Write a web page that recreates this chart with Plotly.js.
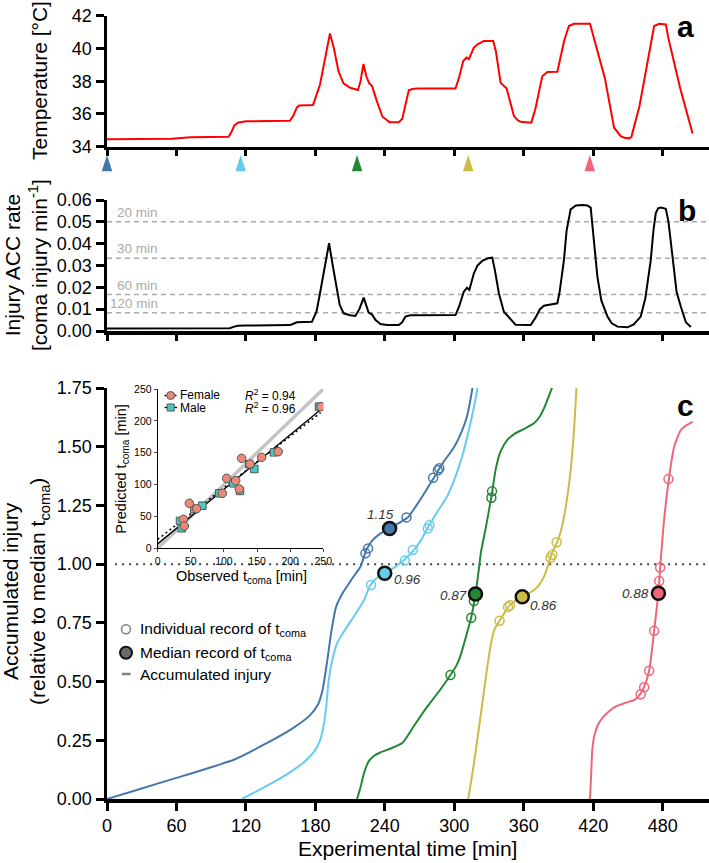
<!DOCTYPE html>
<html><head><meta charset="utf-8">
<script src="https://cdn.plot.ly/plotly-3.0.1.min.js"></script>
<style>html,body{margin:0;padding:0;background:#fff}#chart{width:709px;height:863px}</style>
</head><body><div id="chart"></div>
<script>
// ---------- Panel a: temperature ----------
const tempTime = [0,20,40,56,72,90,105,107.5,110,113,120,140,158,161,164,166,172,178,184,188,192.6,196,200,204.3,210,216.8,219,221.5,224,226.5,229,233,238,244,252,255,258,260.7,264,267.9,280,301,304,307.7,310.6,312.6,316.9,320,325.5,333.6,336,340,343,345.2,348,351.5,355,357.3,366.5,370,376,380.4,389,391,395,399,403.4,417.2,420,430,438,443.8,447,451,453,460,472.6,477,482.7,485,495,505.8];
const tempValue = [34.45,34.46,34.47,34.49,34.57,34.6,34.6,34.9,35.3,35.46,35.55,35.57,35.58,35.9,36.4,36.52,36.55,36.55,37.8,39.2,40.92,40.0,38.6,37.87,37.6,37.46,38.0,39.05,38.3,37.87,37.7,36.8,35.83,35.5,35.5,35.7,36.6,37.44,37.52,37.55,37.56,37.55,38.2,39.23,39.44,39.34,40.05,40.25,40.46,40.46,39.8,37.9,37.7,37.56,36.8,35.87,35.6,35.53,35.47,36.3,38.3,38.56,38.58,39.2,40.5,41.37,41.51,41.51,40.8,38.2,35.16,34.65,34.55,34.51,34.6,36.5,41.37,41.51,41.47,40.6,37.6,34.8];
const arrowTimes = [0,115.5,216,312,417];

// ---------- Panel b: injury accumulation rate ----------
const rateTime = [0,30,60,80,106,110,113,120,158,161,164,177,181,184,188,191.8,195,198.7,201,204.4,210,214.5,218,221.7,224,226,229,232,236.2,242,252,255,257.8,262,301,304,308.2,311,313,316.9,320,324.1,329,332.8,335,338.5,342.8,345,348.6,352.9,366,370,374,377.4,389,391,394.7,397,400.5,405,410.6,415,417.8,420,423.6,427,432.3,436,441,449.6,455,461,465,469.7,472,474,476,478.4,482.7,485,488.5,492,495.7,500,504.3];
const rateValue = [0.0011,0.0011,0.0012,0.0013,0.0013,0.0020,0.0024,0.0025,0.0027,0.0033,0.0040,0.0042,0.009,0.0173,0.029,0.0402,0.030,0.0188,0.012,0.0081,0.0072,0.0069,0.010,0.0153,0.011,0.0084,0.0075,0.005,0.0032,0.0027,0.0027,0.0040,0.0066,0.0072,0.0073,0.011,0.018,0.0198,0.0188,0.0264,0.030,0.0321,0.0333,0.0336,0.028,0.0173,0.0088,0.0075,0.005,0.0029,0.0027,0.006,0.010,0.0116,0.0127,0.018,0.0325,0.046,0.0557,0.0575,0.0577,0.0575,0.0565,0.045,0.0249,0.014,0.0066,0.0035,0.002,0.0017,0.003,0.0066,0.015,0.0325,0.046,0.0539,0.0562,0.0565,0.056,0.050,0.0325,0.018,0.0111,0.004,0.0018];
const thresholdLabels = ['20 min','30 min','60 min','120 min'];
const thresholdRates = [0.05,0.03333,0.01667,0.00833];

// ---------- Panel c: accumulated injury ----------
const groupColors = ['#4477AA','#66CCEE','#228833','#CCBB44','#EE6677'];
const curve1T = [0,30,60,90,110,135,160,175,182,186,190,194,198,204,212,219,224,229,236,244,252,260,270,282,290,300,306,311,316,320];
const curve1V = [0,0.045,0.09,0.135,0.168,0.23,0.30,0.355,0.40,0.46,0.58,0.72,0.82,0.88,0.94,0.99,1.06,1.10,1.13,1.152,1.175,1.20,1.27,1.365,1.43,1.50,1.56,1.63,1.76,1.9];
const curve2T = [116.5,130,145,161,172,180,184,187,189.5,191.5,195,198.7,203,207.4,215,222,227.5,234,240,248,256,265,271,277,285,294,300,304,308,312.6,317,320,322];
const curve2V = [0,0.035,0.075,0.123,0.165,0.209,0.25,0.31,0.40,0.507,0.60,0.663,0.70,0.734,0.79,0.847,0.911,0.945,0.961,0.985,1.015,1.06,1.10,1.155,1.22,1.29,1.36,1.415,1.48,1.571,1.67,1.75,1.85];
const curve3T = [216,219,222,226,231,236,245,255,265,276.6,287,296.7,302,306,310,314.6,318.3,321,323,327,332.3,336,340,346,352,360,368.8,374,378,382,385,388];
const curve3V = [0,0.05,0.11,0.16,0.185,0.198,0.215,0.238,0.31,0.393,0.46,0.528,0.57,0.62,0.69,0.773,0.873,0.97,1.05,1.15,1.295,1.41,1.48,1.53,1.555,1.575,1.60,1.63,1.67,1.72,1.76,1.82];
const curve4T = [312,316,319.8,324,328.5,332,335,339.1,343,347.2,352,358.7,364,368.8,373,377.4,380,383.2,386,389,392,394.7,398,400.5,403.4,405.4,406.5];
const curve4V = [0,0.12,0.251,0.40,0.563,0.67,0.725,0.759,0.79,0.821,0.842,0.861,0.875,0.89,0.91,0.946,0.98,1.03,1.065,1.095,1.14,1.2,1.30,1.40,1.571,1.74,1.85];
const curve5T = [417.2,418,419.2,421,424,428,434,440,448,455.3,459,461.1,463.9,468.3,472.6,475,476.3,477.8,479.5,481.2,485.6,489.9,495.7,500,505.8];
const curve5V = [0,0.08,0.209,0.27,0.315,0.345,0.375,0.395,0.41,0.421,0.437,0.45,0.476,0.546,0.716,0.82,0.876,0.986,1.09,1.188,1.372,1.50,1.571,1.59,1.606];

const indiv1T = [223.2,225.5,258.7,281.7,285.8,287.1];
const indiv1V = [1.046,1.067,1.199,1.368,1.400,1.408];
const indiv2T = [228.1,257.2,264.1,277.1,278.5];
const indiv2V = [0.911,1.015,1.06,1.152,1.166];
const indiv3T = [296.7,314.6,316.9,332.0,332.6];
const indiv3V = [0.528,0.772,0.843,1.283,1.31];
const indiv4T = [339.1,346.4,348.1,383.2,384.7,388.4];
const indiv4V = [0.759,0.818,0.825,1.027,1.04,1.093];
const indiv5T = [461,464,468.3,472.6,477,477.8,485];
const indiv5V = [0.446,0.476,0.546,0.716,0.928,0.986,1.362];

const medianT = [244.1,239.9,318.3,358.7,476.3];
const medianV = [1.152,0.961,0.873,0.861,0.876];
const medianLabels = ['1.15','0.96','0.87','0.86','0.88'];

// ---------- Inset: observed vs predicted ----------
const femaleObs  = [246.5,182,157,139.3,126.8,117.7,104.1,123.2,97.6,47.8,58.8,38.7,40.2];
const femalePred = [222.3,151.7,142.8,132.3,141.2,106.2,109.8,93.1,86.3,70.6,62.2,45.5,35];
const maleObs  = [243.5,175.5,145.9,138.3,114.2,124.2,93,67.4,55.3,33.7,36.2];
const malePred = [222.3,150.6,124.5,131.8,102,90,86.3,66.9,61.7,42.9,31.4];
const identityX = [0,250], identityY = [0,250];
const maleFitX = [0,250], maleFitY = [7,221];
const femaleFitX = [0,246], femaleFitY = [14,213];
const rSquaredLabels = ['0.94','0.96'];

// ---------- helpers (layout only) ----------
const W = 709, H = 863;
const px = v => v / W;
const py = v => 1 - v / H;
const FONT = 'Liberation Sans, Arial, sans-serif';

const curvesT = [curve1T,curve2T,curve3T,curve4T,curve5T];
const curvesV = [curve1V,curve2V,curve3V,curve4V,curve5V];
const indivT = [indiv1T,indiv2T,indiv3T,indiv4T,indiv5T];
const indivV = [indiv1V,indiv2V,indiv3V,indiv4V,indiv5V];

const traces = [];
// panel a
traces.push({x: tempTime, y: tempValue, xaxis:'x3', yaxis:'y3', mode:'lines', line:{color:'#ff0000', width:2}, hoverinfo:'skip'});
// start-time arrows (own thin axis row under panel a)
traces.push({x: arrowTimes, y: arrowTimes.map(()=>0.5), xaxis:'x3', yaxis:'y5', mode:'markers', cliponaxis:false,
  marker:{symbol:'arrow', size:17, color: groupColors, line:{width:0}}, hoverinfo:'skip'});
// panel b
traces.push({x: rateTime, y: rateValue, xaxis:'x2', yaxis:'y2', mode:'lines', line:{color:'#000', width:2}, hoverinfo:'skip'});
// panel c
for (let i = 0; i < 5; i++) {
  traces.push({x: curvesT[i], y: curvesV[i], xaxis:'x', yaxis:'y', mode:'lines', line:{color: groupColors[i], width:2, shape:'spline', smoothing:0.6}, hoverinfo:'skip'});
}
for (let i = 0; i < 5; i++) {
  traces.push({x: indivT[i], y: indivV[i], xaxis:'x', yaxis:'y', mode:'markers', marker:{symbol:'circle-open', size:9, color: groupColors[i], line:{width:1.5, color: groupColors[i]}}, hoverinfo:'skip'});
}
traces.push({x: medianT, y: medianV, xaxis:'x', yaxis:'y', mode:'markers', marker:{symbol:'circle', size:13, color: groupColors, line:{width:2.5, color:'#111'}}, hoverinfo:'skip'});
// inset
traces.push({x: identityX, y: identityY, xaxis:'x4', yaxis:'y4', mode:'lines', line:{color:'#c4c4c4', width:3.5}, hoverinfo:'skip'});
traces.push({x: maleFitX, y: maleFitY, xaxis:'x4', yaxis:'y4', mode:'lines', line:{color:'#000', width:1.4}, hoverinfo:'skip'});
traces.push({x: femaleFitX, y: femaleFitY, xaxis:'x4', yaxis:'y4', mode:'lines', line:{color:'#000', width:1.6, dash:'2px,3px'}, hoverinfo:'skip'});
traces.push({x: maleObs, y: malePred, xaxis:'x4', yaxis:'y4', mode:'markers', marker:{symbol:'square', size:7.5, color:'#44CCC0', line:{width:1, color:'#555'}}, hoverinfo:'skip'});
traces.push({x: femaleObs, y: femalePred, xaxis:'x4', yaxis:'y4', mode:'markers', marker:{symbol:'circle', size:8.5, color:'#EE8877', line:{width:1, color:'#555'}}, hoverinfo:'skip'});

const mainAxisCommon = {showgrid:false, zeroline:false, showline:true, linecolor:'#000', linewidth:3.5,
  ticks:'outside', ticklen:8, tickwidth:3, tickcolor:'#000', tickfont:{size:18, color:'#000', family:FONT}, fixedrange:true};
const xTicks = [0,60,120,180,240,300,360,420,480];

const layout = {
  width: W, height: H, margin:{l:0,r:0,t:0,b:0}, showlegend:false,
  paper_bgcolor:'#fff', plot_bgcolor:'rgba(0,0,0,0)',
  font:{family:FONT, color:'#000'},
  xaxis: Object.assign({}, mainAxisCommon, {domain:[px(107), 1], range:[0,520], anchor:'y', tickvals:xTicks}),
  yaxis: Object.assign({}, mainAxisCommon, {domain:[py(799), py(388)], range:[0,1.75], anchor:'x', tickvals:[0,0.25,0.5,0.75,1,1.25,1.5,1.75], tickformat:'.2f'}),
  xaxis2: Object.assign({}, mainAxisCommon, {domain:[px(107), 1], range:[0,520], anchor:'y2', tickvals:xTicks, showticklabels:false, ticklen:6}),
  yaxis2: Object.assign({}, mainAxisCommon, {domain:[py(331), py(200)], range:[0,0.06], anchor:'x2', tickvals:[0,0.01,0.02,0.03,0.04,0.05,0.06], tickformat:'.2f'}),
  xaxis3: Object.assign({}, mainAxisCommon, {domain:[px(107), 1], range:[0,520], anchor:'y3', tickvals:xTicks, showticklabels:false, ticklen:6}),
  yaxis3: Object.assign({}, mainAxisCommon, {domain:[py(146.7), py(15.7)], range:[34,42], anchor:'x3', tickvals:[34,36,38,40,42]}),
  yaxis5: {domain:[py(163), py(147)], range:[0,1], anchor:'x3', visible:false, fixedrange:true},
  xaxis4: {domain:[px(157.7), px(323.3)], range:[0,250], anchor:'y4', showgrid:false, zeroline:false, showline:true, linecolor:'#000', linewidth:1,
           ticks:'outside', ticklen:3, tickwidth:1, tickvals:[0,50,100,150,200,250], tickfont:{size:10.5, family:FONT}, fixedrange:true},
  yaxis4: {domain:[py(548.3), py(389)], range:[0,250], anchor:'x4', showgrid:false, zeroline:false, showline:true, linecolor:'#000', linewidth:1,
           ticks:'outside', ticklen:3, tickwidth:1, tickvals:[0,50,100,150,200,250], tickfont:{size:10.5, family:FONT}, fixedrange:true},
  shapes: [], annotations: []
};

// threshold reference lines in panel b
thresholdRates.forEach((r, i) => {
  layout.shapes.push({type:'line', xref:'x2', yref:'y2', x0:0, x1:520, y0:r, y1:r, layer:'below', line:{color:'#aaaaaa', width:1.5, dash:'5px,4px'}});
  layout.annotations.push({xref:'x2', yref:'y2', x:46, y:r, xanchor:'right', yanchor:'bottom', yshift:0, showarrow:false,
    text: thresholdLabels[i], font:{size:13.5, color:'#aaaaaa'}});
});
// dotted line at 1.0 in panel c
layout.shapes.push({type:'line', xref:'x', yref:'y', x0:7, x1:520, y0:1, y1:1, layer:'below', line:{color:'#444', width:2, dash:'2px,5px'}});

// median value labels
const labelShift = [[-9,14],[23,-6],[-22,-2],[21,-9],[-23,0]];
medianLabels.forEach((t, i) => {
  layout.annotations.push({xref:'x', yref:'y', x: medianT[i], y: medianV[i], xshift: labelShift[i][0], yshift: labelShift[i][1], showarrow:false,
    xanchor:'center', yanchor:'middle', text:'<i>'+t+'</i>', font:{size:13.5, color:'#333'}});
});

// axis titles (annotations)
const titleFont = {size:21, color:'#000', family:FONT};
const C = {xanchor:'center', yanchor:'middle', showarrow:false, xref:'paper', yref:'paper'};
layout.annotations.push(
  Object.assign({}, C, {x:px(40), y:py(81), text:'Temperature [°C]', textangle:-90, font:titleFont}),
  Object.assign({}, C, {x:px(26), y:py(265), text:'Injury ACC rate<br>[coma injury min<sup>-1</sup>]', textangle:-90, font:titleFont}),
  Object.assign({}, C, {x:px(26), y:py(592), text:'Accumulated injury<br>(relative to median t<sub>coma</sub>)', textangle:-90, font:titleFont}),
  Object.assign({}, C, {x:px(407), y:py(848), text:'Experimental time [min]', font:titleFont}),
  Object.assign({}, C, {x:px(121.7), y:py(469), text:'Predicted t<sub>coma</sub> [min]', textangle:-90, font:{size:14.5}}),
  Object.assign({}, C, {x:px(241), y:py(576.5), text:'Observed t<sub>coma</sub> [min]', font:{size:14.5}}),
  Object.assign({}, C, {x:px(685.5), y:py(26.7), text:'<b>a</b>', font:{size:30}}),
  Object.assign({}, C, {x:px(686.5), y:py(211), text:'<b>b</b>', font:{size:30}}),
  Object.assign({}, C, {x:px(685), y:py(405.7), text:'<b>c</b>', font:{size:30}})
);

// main legend (panel c)
const legendItems = [
  {y:629.3, text:'Individual record of t<sub>coma</sub>'},
  {y:653, text:'Median record of t<sub>coma</sub>'},
  {y:674, text:'Accumulated injury'}
];
legendItems.forEach(it => layout.annotations.push({xref:'paper', yref:'paper', x:px(137.5), y:py(it.y), xanchor:'left', yanchor:'middle', showarrow:false, text:it.text, font:{size:15.5}}));
layout.shapes.push(
  {type:'circle', xref:'paper', yref:'paper', xsizemode:'pixel', ysizemode:'pixel', xanchor:px(126), yanchor:py(629.3), x0:-4.5, x1:4.5, y0:-4.5, y1:4.5, line:{color:'#808080', width:1.5}},
  {type:'circle', xref:'paper', yref:'paper', xsizemode:'pixel', ysizemode:'pixel', xanchor:px(126), yanchor:py(652.7), x0:-6, x1:6, y0:-6, y1:6, fillcolor:'#6a6a6a', line:{color:'#111', width:2}},
  {type:'line', xref:'paper', yref:'paper', x0:px(122), x1:px(130.5), y0:py(674), y1:py(674), line:{color:'#808080', width:2.5}}
);

// inset legend
layout.shapes.push(
  {type:'line', xref:'paper', yref:'paper', x0:px(164.5), x1:px(177), y0:py(395.5), y1:py(395.5), line:{color:'#000', width:1.5, dash:'2px,3px'}},
  {type:'circle', xref:'paper', yref:'paper', xsizemode:'pixel', ysizemode:'pixel', xanchor:px(170.7), yanchor:py(395.5), x0:-4, x1:4, y0:-4, y1:4, fillcolor:'#EE8877', line:{color:'#555', width:1}},
  {type:'line', xref:'paper', yref:'paper', x0:px(164.5), x1:px(177), y0:py(407.5), y1:py(407.5), line:{color:'#000', width:1.3}},
  {type:'rect', xref:'paper', yref:'paper', xsizemode:'pixel', ysizemode:'pixel', xanchor:px(170.7), yanchor:py(407.5), x0:-3.5, x1:3.5, y0:-3.5, y1:3.5, fillcolor:'#44CCC0', line:{color:'#555', width:1}}
);
const insetTextFont = {size:12};
layout.annotations.push(
  {xref:'paper', yref:'paper', x:px(178.3), y:py(395.5), xanchor:'left', yanchor:'middle', showarrow:false, text:'Female', font:insetTextFont},
  {xref:'paper', yref:'paper', x:px(178.3), y:py(407.5), xanchor:'left', yanchor:'middle', showarrow:false, text:'Male', font:insetTextFont},
  {xref:'paper', yref:'paper', x:px(242.7), y:py(395.5), xanchor:'left', yanchor:'middle', showarrow:false, text:'<i>R</i><sup>2</sup> = '+rSquaredLabels[0], font:insetTextFont},
  {xref:'paper', yref:'paper', x:px(242.7), y:py(407.5), xanchor:'left', yanchor:'middle', showarrow:false, text:'<i>R</i><sup>2</sup> = '+rSquaredLabels[1], font:insetTextFont}
);

Plotly.newPlot('chart', traces, layout, {displayModeBar:false, staticPlot:true});
</script>
</body></html>
